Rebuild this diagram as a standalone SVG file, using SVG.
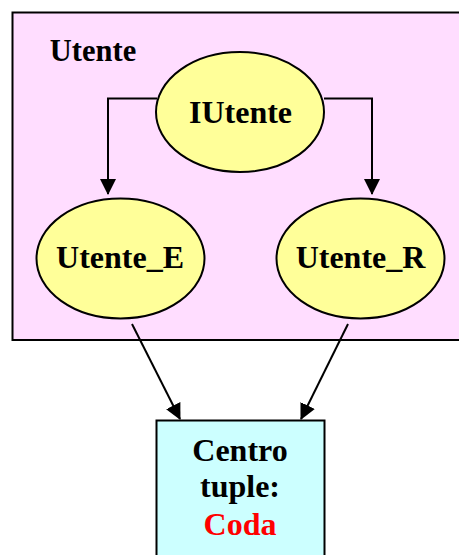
<svg xmlns="http://www.w3.org/2000/svg" width="459" height="555" viewBox="0 0 459 555">
<defs>
<style>
.t{font-family:"Liberation Serif","Times New Roman",serif;font-weight:bold;font-size:32px;text-anchor:middle;fill:#000}
.e{fill:#ffff99;stroke:#000;stroke-width:2}
.c{fill:none;stroke:#000;stroke-width:2}
</style>
<marker id="ah" markerWidth="16" markerHeight="16" viewBox="0 0 16 16" refX="15" refY="8" orient="auto" markerUnits="userSpaceOnUse">
<path d="M0,0 L16,8 L0,16 Z" fill="#000"/>
</marker>
</defs>
<g id="utente">
<rect x="12.5" y="12.5" width="460" height="327.5" fill="#ffddff" stroke="#000" stroke-width="2"/>
<text class="t" x="93" y="61" style="font-size:30.5px">Utente</text>
</g>
<g id="iutente">
<ellipse class="e" cx="240" cy="112" rx="84" ry="60"/>
<text class="t" x="240.5" y="123">IUtente</text>
</g>
<g id="utente_e">
<ellipse class="e" cx="120.5" cy="258.5" rx="84" ry="60"/>
<text class="t" x="120" y="268">Utente_E</text>
</g>
<g id="utente_r">
<ellipse class="e" cx="360.5" cy="258.5" rx="84" ry="60"/>
<text class="t" x="360.5" y="268">Utente_R</text>
</g>
<g id="centro">
<rect x="156.5" y="420.5" width="168" height="150" fill="#ccffff" stroke="#000" stroke-width="2"/>
<text class="t" x="240" y="461">Centro</text>
<text class="t" x="240" y="497">tuple:</text>
<text class="t" x="240" y="535" style="fill:#ff0000">Coda</text>
</g>
<g id="connectors">
<path class="c" d="M157,98.5 H108 V194" marker-end="url(#ah)"/>
<path class="c" d="M324,98.5 H372 V194" marker-end="url(#ah)"/>
<path class="c" d="M132,324 L180,419" marker-end="url(#ah)"/>
<path class="c" d="M348,324 L301,419" marker-end="url(#ah)"/>
</g>
</svg>
